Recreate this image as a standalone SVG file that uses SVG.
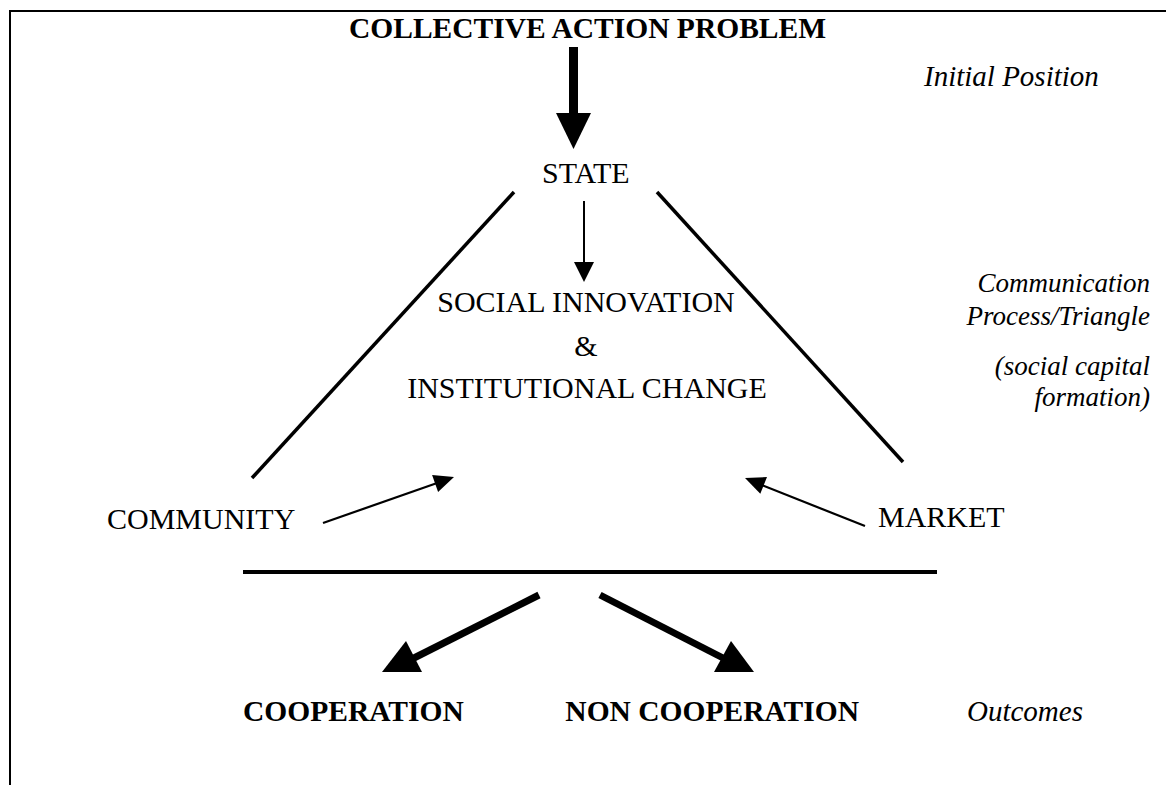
<svg xmlns="http://www.w3.org/2000/svg" width="1166" height="785" viewBox="0 0 1166 785">
<style>
text{font-family:"Liberation Serif","Times New Roman",serif;font-size:30px;fill:#000}
.b{font-weight:bold;font-size:29.5px}
.i{font-style:italic;font-size:29px}
.m{text-anchor:middle}
.e{text-anchor:end;font-size:27px}
.ln{stroke:#000;fill:none}
.head{fill:#000;stroke:none}
</style>
<rect width="1166" height="785" fill="#fff"/>
<g id="frame"><path class="ln" stroke-width="2" d="M10,785 V11 H1166"/></g>
<g id="connectors">
<rect x="569" y="47" width="9" height="68" fill="#000"/>
<polygon class="head" points="556,113 591,113 573.5,149"/>
<line class="ln" stroke-width="2" x1="584" y1="201" x2="584" y2="264"/>
<polygon class="head" points="574,262 594,262 584,282"/>
<line class="ln" stroke-width="3.5" x1="514" y1="192" x2="252" y2="478"/>
<line class="ln" stroke-width="3.5" x1="657" y1="192" x2="903" y2="462"/>
<line class="ln" stroke-width="2.2" x1="323" y1="523" x2="440" y2="482"/>
<polygon class="head" points="454,477 432.1,475.1 438.1,492.1"/>
<line class="ln" stroke-width="2.2" x1="865" y1="526" x2="759" y2="484"/>
<polygon class="head" points="745,478 767,477 760.3,493.8"/>
<line class="ln" stroke-width="4" x1="243" y1="572" x2="937" y2="572"/>
<line class="ln" stroke-width="7" x1="539" y1="595" x2="412" y2="659"/>
<polygon class="head" points="406,641 382,672 422,672"/>
<line class="ln" stroke-width="7" x1="600" y1="595" x2="725" y2="659"/>
<polygon class="head" points="731,641 714,672 754,672"/>
</g>
<g id="title"><text class="b" x="349" y="38">COLLECTIVE ACTION PROBLEM</text></g>
<g id="initial"><text class="i" x="924" y="86">Initial Position</text></g>
<g id="state"><text x="542" y="183">STATE</text></g>
<g id="innovation">
<text class="m" x="586" y="312">SOCIAL INNOVATION</text>
<text class="m" x="586" y="356">&amp;</text>
<text class="m" x="587" y="398">INSTITUTIONAL CHANGE</text>
</g>
<g id="community"><text x="107" y="529">COMMUNITY</text></g>
<g id="market"><text x="878" y="527">MARKET</text></g>
<g id="communication">
<text class="i e" x="1150" y="292">Communication</text>
<text class="i e" x="1150" y="325">Process/Triangle</text>
<text class="i e" x="1150" y="375">(social capital</text>
<text class="i e" x="1150" y="406">formation)</text>
</g>
<g id="cooperation"><text class="b" x="243" y="721">COOPERATION</text></g>
<g id="noncooperation"><text class="b" x="859" y="721" text-anchor="end">NON COOPERATION</text></g>
<g id="outcomes"><text class="i" x="967" y="721">Outcomes</text></g>
</svg>
